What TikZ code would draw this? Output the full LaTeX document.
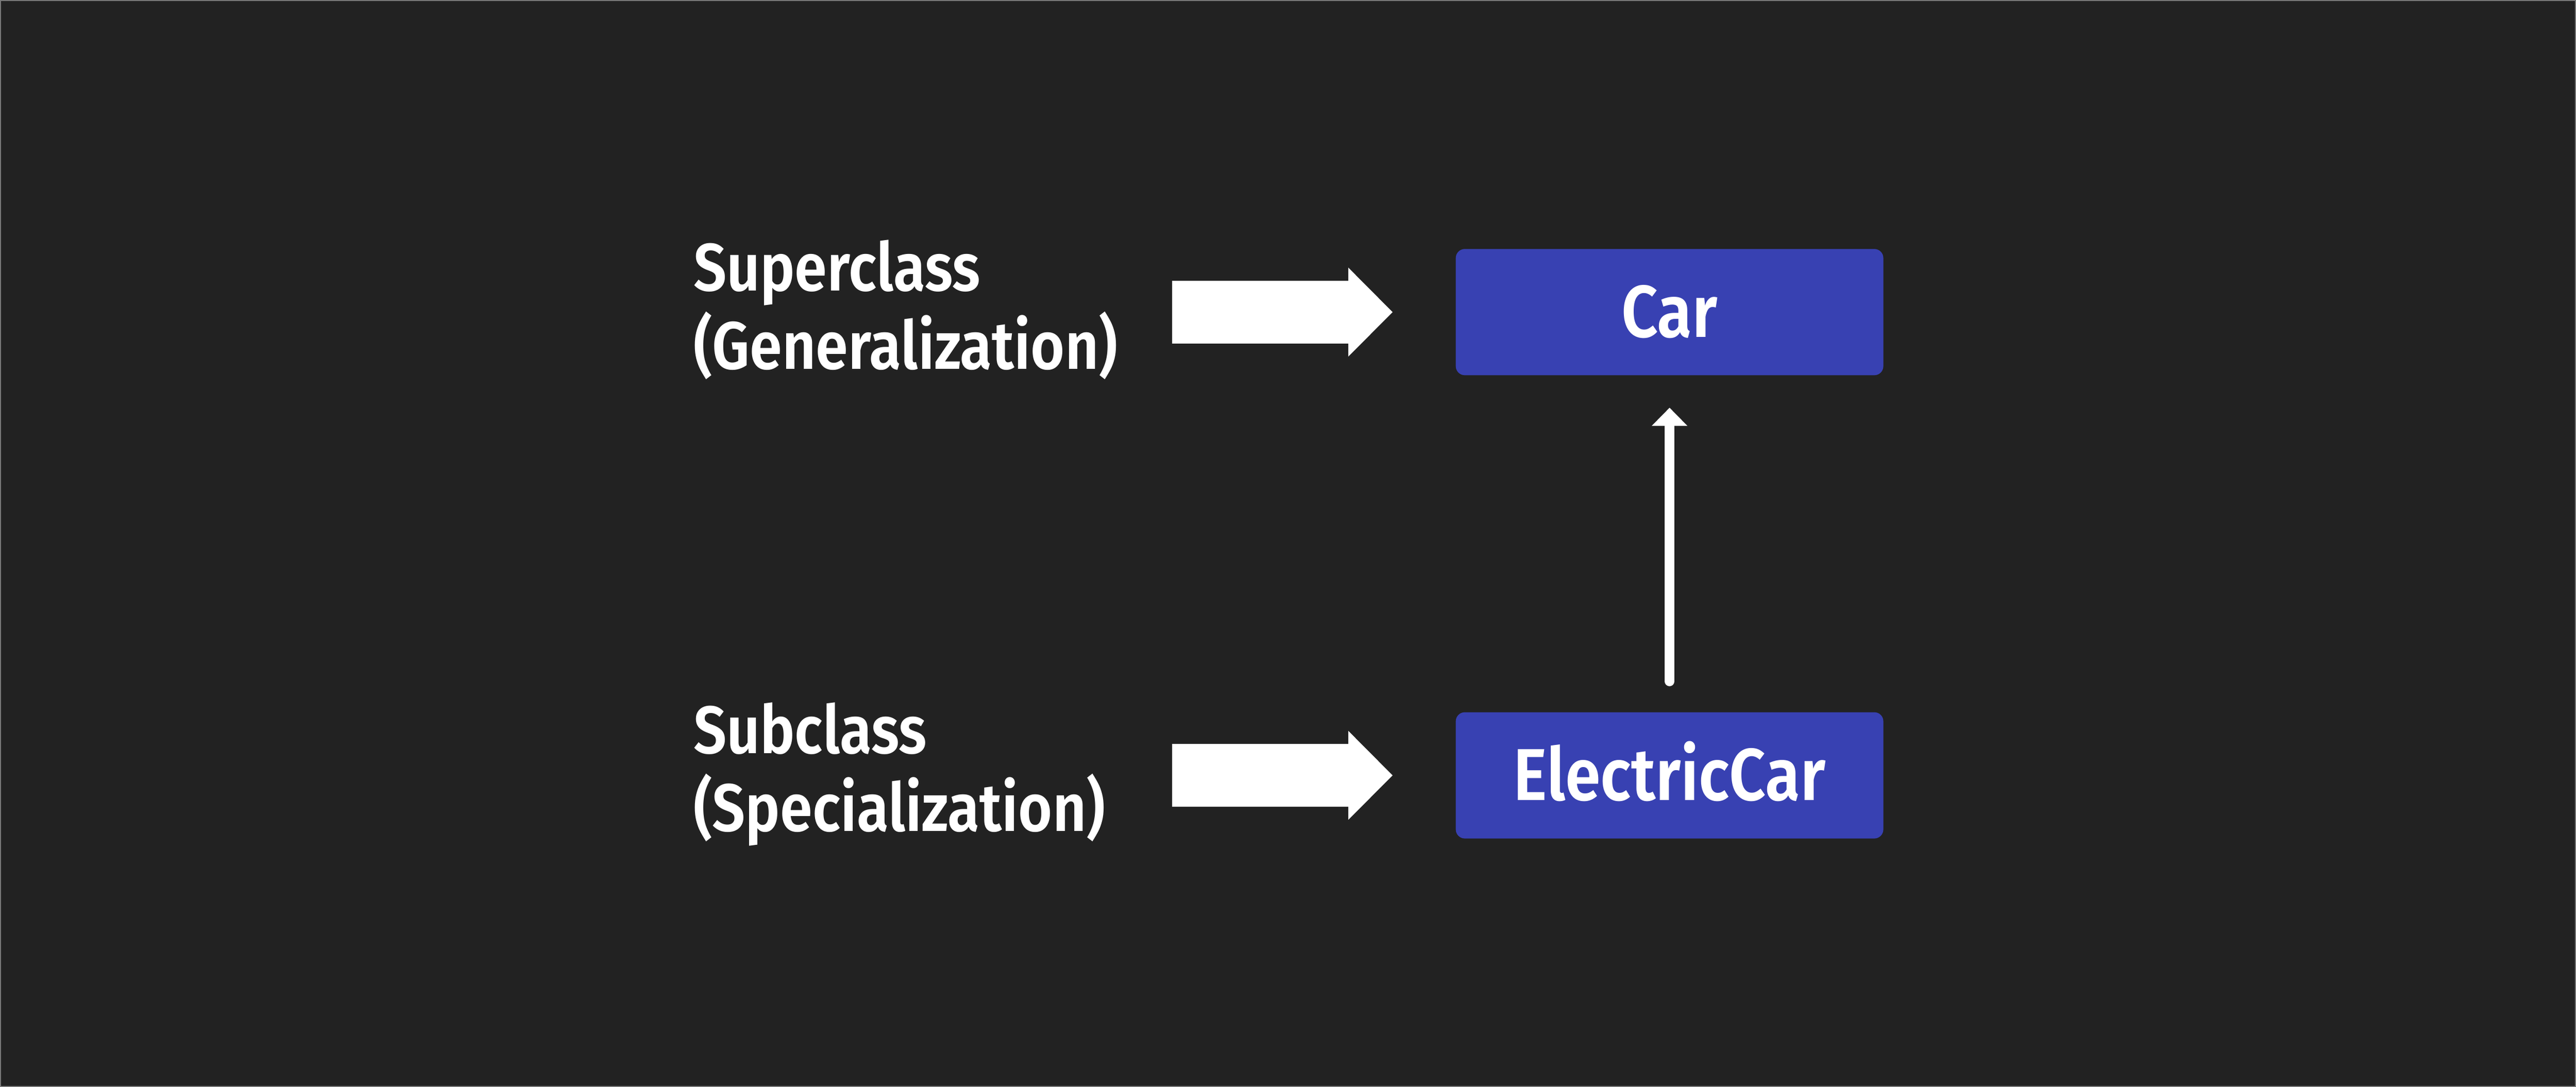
\documentclass[tikz,border=0pt]{standalone}
\usepackage{fontspec}
\setmainfont{Fira Sans}[UprightFont=* SemiBold, FakeStretch=0.87]
\usetikzlibrary{arrows.meta}
\definecolor{bgdark}{HTML}{222222}
\definecolor{boxblue}{HTML}{3841B2}
\definecolor{edgegray}{HTML}{7A7A7A}
\tikzset{
  classbox/.style={fill=boxblue, rounded corners=0.18cm, minimum width=8.5cm, minimum height=2.51cm, inner sep=0pt, text=white, text height=1cm, text depth=0pt, font=\fontsize{41.6}{48}\selectfont},
  lbl/.style={anchor=base west, inner sep=0pt, text=white, font=\fontsize{38}{44}\selectfont},
  bigarrow/.style={white, line width=1.25cm, -{Triangle[width=1.77cm,length=0.88cm,line width=0pt]}},
  inherit/.style={white, line width=0.2cm, line cap=round, -{Triangle[width=0.71cm,length=0.36cm,line width=0pt]}}
}

\begin{document}
\begin{tikzpicture}
\useasboundingbox (0,0) rectangle (51.21,21.61);
\fill [bgdark] (0,0) rectangle (51.21,21.61);
\draw [edgegray, line width=0.02cm] (0.01,0.01) rectangle (51.20,21.60);

\node (car) at (33.19,15.405) [classbox] {Car};
\node (ecar) at (33.19,6.195) [classbox] {ElectricCar};

\node (suplbl) at (13.78,15.83) [lbl] {Superclass};
\node (genlbl) at (13.78,14.27) [lbl] {(Generalization)};
\node (sublbl) at (13.78,6.63) [lbl] {Subclass};
\node (spclbl) at (13.78,5.08) [lbl] {(Specialization)};

\coordinate (supfrom) at (23.30,15.405);
\coordinate (subfrom) at (23.30,6.195);

\draw [bigarrow, shorten >=1.25cm] (supfrom) -- (car.west);
\draw [bigarrow, shorten >=1.25cm] (subfrom) -- (ecar.west);
\draw [inherit, shorten <=0.61cm, shorten >=0.64cm] (ecar) -- (car);
\end{tikzpicture}
\end{document}
